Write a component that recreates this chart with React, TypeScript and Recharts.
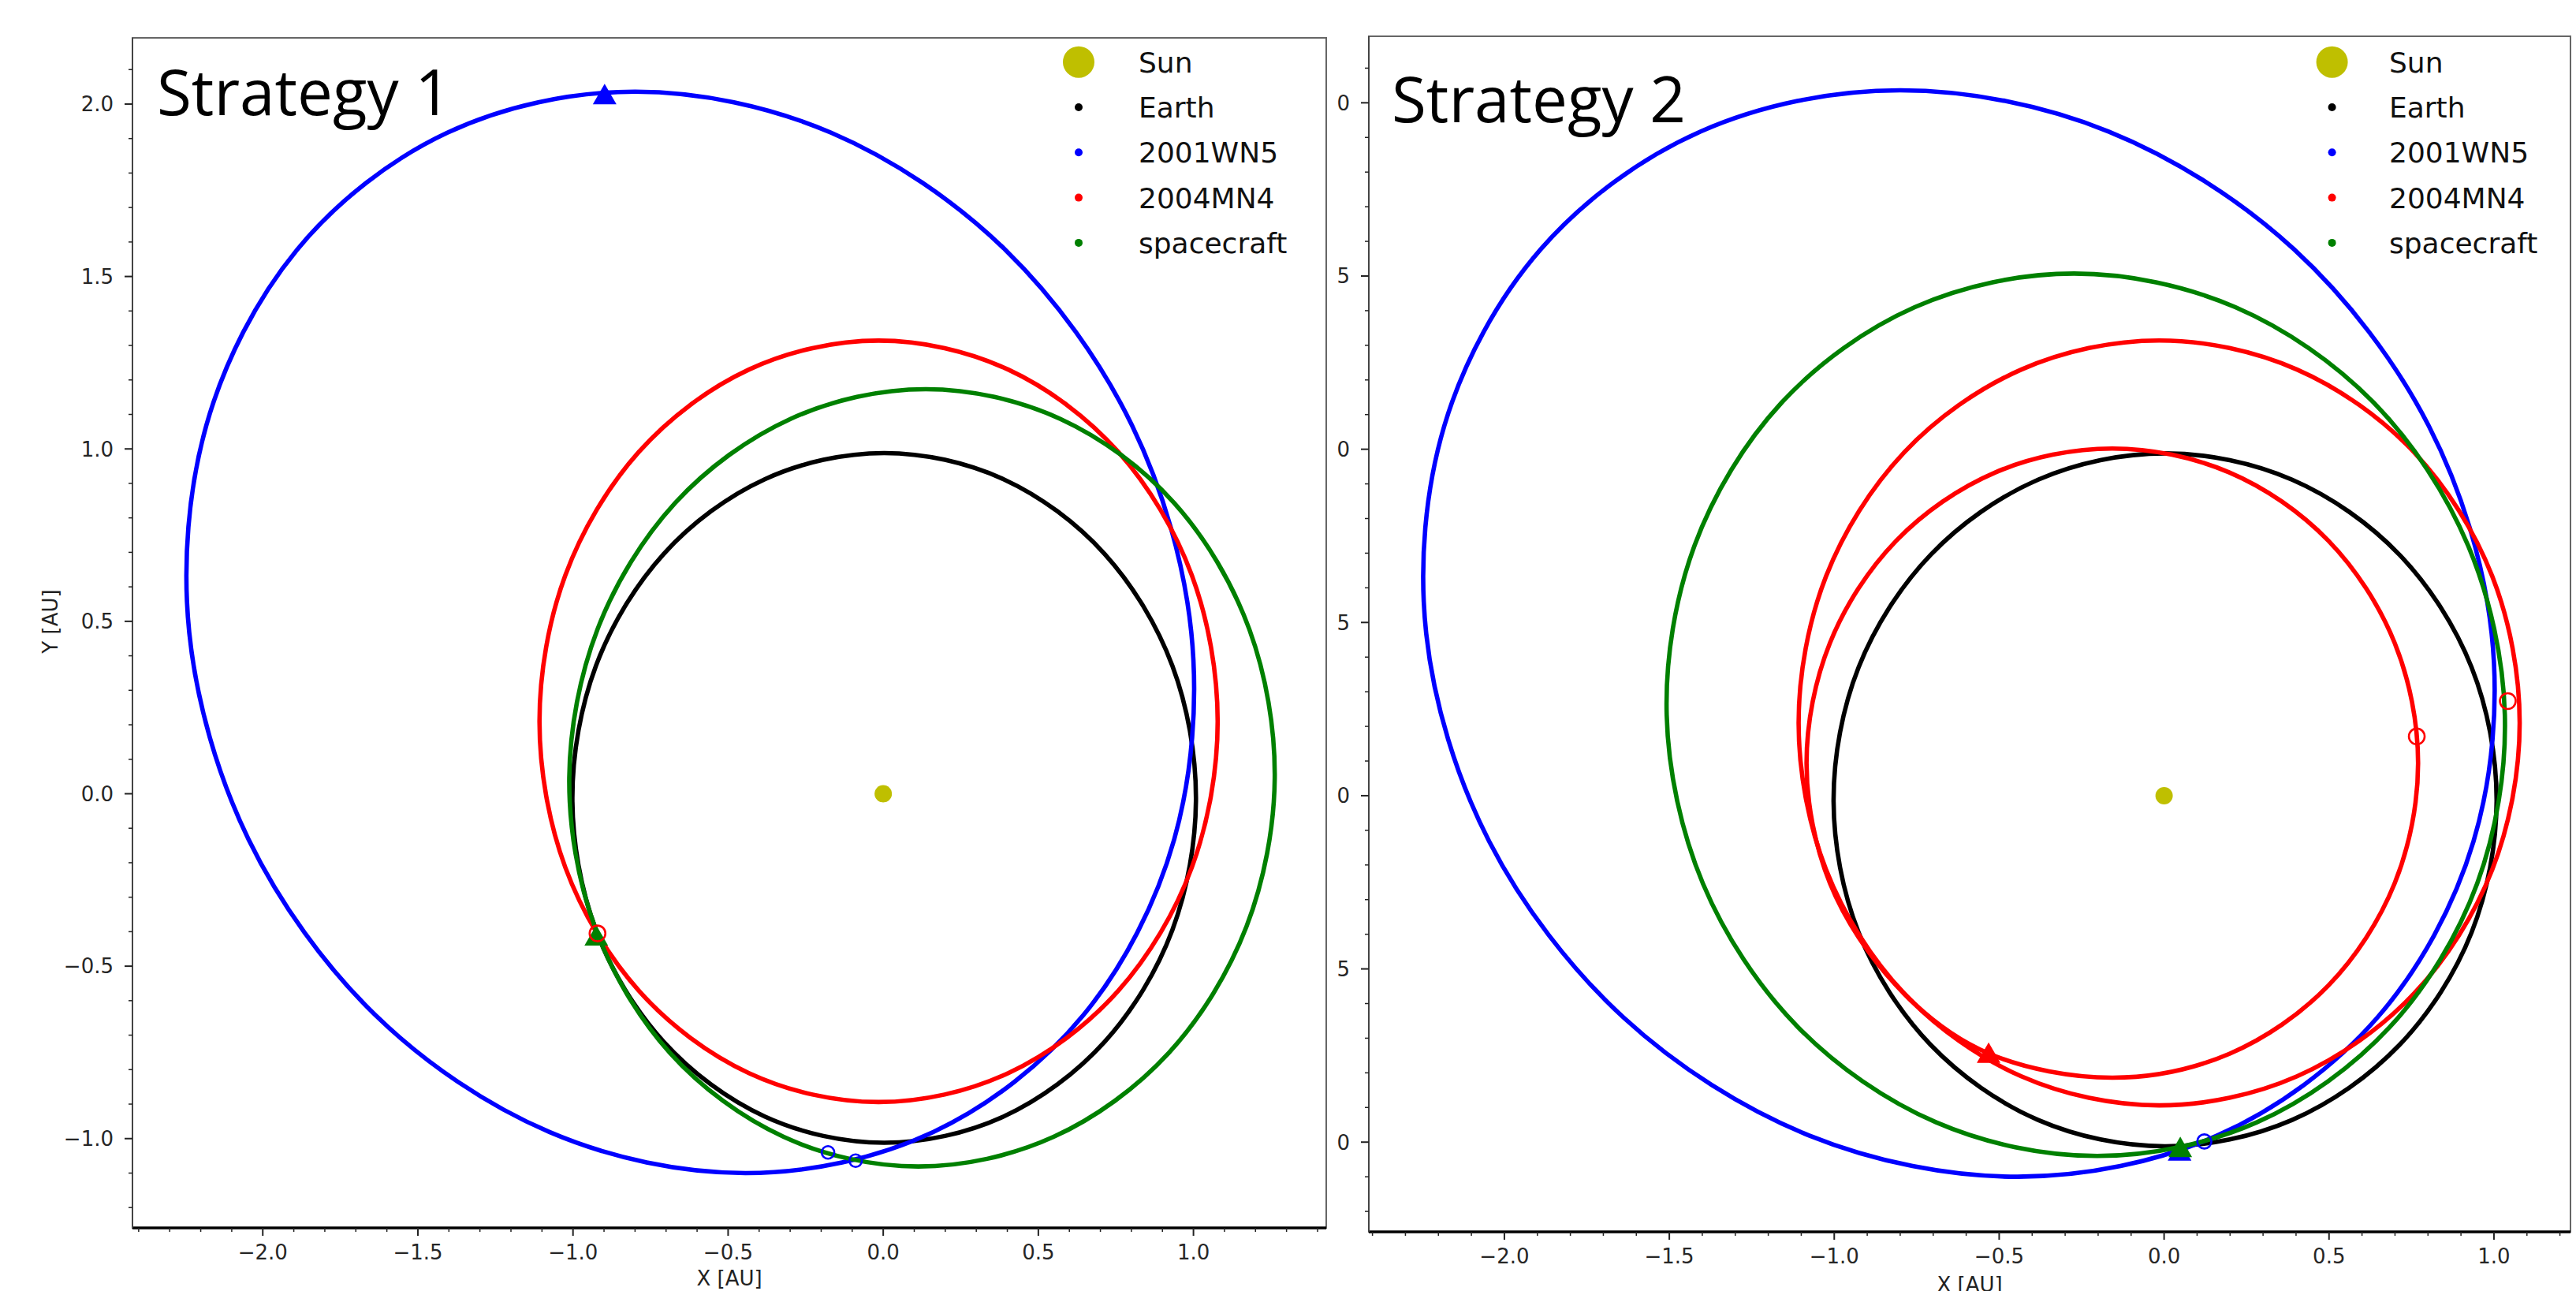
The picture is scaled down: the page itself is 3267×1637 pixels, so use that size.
import React from 'react';
import { ComposedChart, Line, Scatter, XAxis, YAxis, ReferenceArea } from 'recharts';

type Pt = { x: number; y: number };
const toPts = (a: number[][]): Pt[] => a.map(([x, y]) => ({ x, y }));

// ---------- orbit traces (closed loops) ----------
const earthOrbit = toPts([
  [0.003, 0.988], [0.388, 0.912], [0.714, 0.695], [0.932, 0.371], [1.008, -0.012], [0.932, -0.395],
  [0.714, -0.719], [0.388, -0.936], [0.003, -1.012], [-0.382, -0.936], [-0.708, -0.719], [-0.926, -0.395],
  [-1.002, -0.012], [-0.926, 0.371], [-0.708, 0.695], [-0.382, 0.912],
]);

const wn5Orbit = toPts([
  [-0.800, 2.036], [-0.168, 1.917], [0.394, 1.577], [0.802, 1.068], [0.993, 0.468], [0.938, -0.132],
  [0.646, -0.641], [0.161, -0.981], [-0.444, -1.100], [-1.076, -0.981], [-1.638, -0.641], [-2.046, -0.132],
  [-2.237, 0.468], [-2.182, 1.068], [-1.890, 1.577], [-1.405, 1.917],
]);

const mn4Orbit = toPts([
  [-0.015, 1.314], [0.403, 1.230], [0.758, 0.991], [0.995, 0.633], [1.078, 0.210], [0.995, -0.213],
  [0.758, -0.571], [0.403, -0.810], [-0.015, -0.894], [-0.433, -0.810], [-0.788, -0.571], [-1.025, -0.213],
  [-1.108, 0.210], [-1.025, 0.633], [-0.788, 0.991], [-0.433, 1.230],
]);

const craftOrbit1 = toPts([
  [0.137, 1.173], [0.571, 1.087], [0.938, 0.843], [1.180, 0.477], [1.262, 0.046], [1.171, -0.385],
  [0.921, -0.751], [0.549, -0.995], [0.113, -1.081], [-0.321, -0.995], [-0.688, -0.751], [-0.930, -0.385],
  [-1.012, 0.046], [-0.921, 0.477], [-0.671, 0.843], [-0.299, 1.087],
]);

const craftOrbit2 = toPts([
  [-0.273, 1.507], [0.216, 1.410], [0.636, 1.134], [0.922, 0.721], [1.033, 0.234], [0.949, -0.254],
  [0.685, -0.667], [0.281, -0.943], [-0.203, -1.040], [-0.691, -0.943], [-1.111, -0.667], [-1.398, -0.254],
  [-1.508, 0.234], [-1.424, 0.721], [-1.160, 1.134], [-0.756, 1.410],
]);

const mn4Deflected = toPts([
  [-0.532, -0.744], [-0.157, -0.814], [0.198, -0.745], [0.498, -0.548], [0.699, -0.253], [0.770, 0.094],
  [0.699, 0.441], [0.498, 0.736], [0.198, 0.933], [-0.157, 1.002], [-0.512, 0.933], [-0.812, 0.736],
  [-1.013, 0.441], [-1.084, 0.094], [-1.013, -0.253], [-0.812, -0.548],
]);

// ---------- markers ----------
const sunPos = toPts([[0, 0]]);
const s1BlueTri = toPts([[-0.898, 2.027]]);
const s1GreenTri = toPts([[-0.925, -0.413]]);
const s1RedRing = toPts([[-0.921, -0.405]]);
const s1BlueRings = toPts([[-0.178, -1.040], [-0.089, -1.064]]);

const s2RedTri = toPts([[-0.532, -0.744]]);
const s2BlueTri = toPts([[0.047, -1.026]]);
const s2GreenTri = toPts([[0.049, -1.016]]);
const s2BlueRing = toPts([[0.122, -0.998]]);
const s2RedRings = toPts([[0.766, 0.171], [1.042, 0.273]]);

// ---------- axes ----------
const yDomain: [number, number] = [-1.259, 2.192];
const xDomain1: [number, number] = [-2.42, 1.428];
const xDomain2: [number, number] = [-2.411, 1.232];
const xMajor = [-2.0, -1.5, -1.0, -0.5, 0.0, 0.5, 1.0];
const yMajor = [-1.0, -0.5, 0.0, 0.5, 1.0, 1.5, 2.0];
const xTicks1 = [-2.4, -2.3, -2.2, -2.1, -2.0, -1.9, -1.8, -1.7, -1.6, -1.5, -1.4, -1.3, -1.2, -1.1, -1.0, -0.9, -0.8, -0.7, -0.6, -0.5, -0.4, -0.3, -0.2, -0.1, 0.0, 0.1, 0.2, 0.3, 0.4, 0.5, 0.6, 0.7, 0.8, 0.9, 1.0, 1.1, 1.2, 1.3, 1.4];
const xTicks2 = [-2.4, -2.3, -2.2, -2.1, -2.0, -1.9, -1.8, -1.7, -1.6, -1.5, -1.4, -1.3, -1.2, -1.1, -1.0, -0.9, -0.8, -0.7, -0.6, -0.5, -0.4, -0.3, -0.2, -0.1, 0.0, 0.1, 0.2, 0.3, 0.4, 0.5, 0.6, 0.7, 0.8, 0.9, 1.0, 1.1, 1.2];
const yTicks = [-1.2, -1.1, -1.0, -0.9, -0.8, -0.7, -0.6, -0.5, -0.4, -0.3, -0.2, -0.1, 0.0, 0.1, 0.2, 0.3, 0.4, 0.5, 0.6, 0.7, 0.8, 0.9, 1.0, 1.1, 1.2, 1.3, 1.4, 1.5, 1.6, 1.7, 1.8, 1.9, 2.0, 2.1];

const legendLabels = ['Sun', 'Earth', '2001WN5', '2004MN4', 'spacecraft'];
const legendColors = ['#bfbf00', '#000000', '#0000ff', '#ff0000', '#008000'];
const legendDotR = [20, 5, 5, 5, 5];

const panelTitles = ['Strategy 1', 'Strategy 2'];

const C_SUN = '#bfbf00';
const C_EARTH = '#000000';
const C_BLUE = '#0000ff';
const C_RED = '#ff0000';
const C_GREEN = '#008000';

const TICK_FONT = 'DejaVu Sans, Verdana, sans-serif';

// closed Catmull-Rom curve through the plotted points (used as the Line's curve type)
const closedSpline: any = (context: any) => {
  let pts: number[][] = [];
  return {
    areaStart() {},
    areaEnd() {},
    lineStart() {
      pts = [];
    },
    point(x: number, y: number) {
      pts.push([+x, +y]);
    },
    lineEnd() {
      const n = pts.length;
      if (n === 0) return;
      context.moveTo(pts[0][0], pts[0][1]);
      if (n < 3) {
        for (let i = 1; i < n; i++) context.lineTo(pts[i][0], pts[i][1]);
        return;
      }
      for (let i = 0; i < n; i++) {
        const p0 = pts[(i - 1 + n) % n];
        const p1 = pts[i];
        const p2 = pts[(i + 1) % n];
        const p3 = pts[(i + 2) % n];
        context.bezierCurveTo(
          p1[0] + (p2[0] - p0[0]) / 6,
          p1[1] + (p2[1] - p0[1]) / 6,
          p2[0] - (p3[0] - p1[0]) / 6,
          p2[1] - (p3[1] - p1[1]) / 6,
          p2[0],
          p2[1]
        );
      }
      context.closePath();
    },
  };
};

const fmtFull = (v: number) => v.toFixed(1).replace('-', '\u2212');
const fmtLast = (v: number) => {
  const s = v.toFixed(1);
  return s.charAt(s.length - 1);
};
const isIn = (arr: number[], v: number) => arr.some((a) => Math.abs(a - v) < 1e-6);

const makeXTick = (fmt: (v: number) => string) => (props: any) => {
  const { x, y, payload } = props;
  const v = payload.value;
  const maj = isIn(xMajor, v);
  return (
    <g>
      <line x1={x} x2={x} y1={y} y2={y + (maj ? 10 : 5)} stroke="#222" strokeWidth={maj ? 2 : 1.5} />
      {maj && (
        <text x={x} y={y + 40} textAnchor="middle" fontFamily={TICK_FONT} fontSize={26} fill="#262626">
          {fmt(v)}
        </text>
      )}
    </g>
  );
};

const makeYTick = (fmt: (v: number) => string) => (props: any) => {
  const { x, y, payload } = props;
  const v = payload.value;
  const maj = isIn(yMajor, v);
  return (
    <g>
      <line x1={x - (maj ? 10 : 5)} x2={x} y1={y} y2={y} stroke="#222" strokeWidth={maj ? 2 : 1.5} />
      {maj && (
        <text x={x - 24} y={y} dy="0.36em" textAnchor="end" fontFamily={TICK_FONT} fontSize={26} fill="#262626">
          {fmt(v)}
        </text>
      )}
    </g>
  );
};

const triShape = (fill: string) => (p: any) => (
  <polygon points={`${p.cx},${p.cy - 14} ${p.cx - 15},${p.cy + 12} ${p.cx + 15},${p.cy + 12}`} fill={fill} />
);
const ringShape = (stroke: string, r: number) => (p: any) => (
  <circle cx={p.cx} cy={p.cy} r={r} fill="none" stroke={stroke} strokeWidth={2.6} />
);
const dotShape = (fill: string, r: number) => (p: any) => <circle cx={p.cx} cy={p.cy} r={r} fill={fill} />;

const orbit = (data: Pt[], color: string, key: string) => (
  <Line
    key={key}
    data={data}
    dataKey="y"
    type={closedSpline}
    stroke={color}
    strokeWidth={5.6}
    fill="none"
    dot={false}
    activeDot={false}
    isAnimationActive={false}
  />
);

const marker = (data: Pt[], shape: any, key: string) => (
  <Scatter key={key} data={data} dataKey="y" shape={shape} isAnimationActive={false} />
);

type PanelProps = {
  left: number;
  width: number;
  marginTop: number;
  marginRight: number;
  yAxisWidth: number;
  xAxisHeight: number;
  xDomain: [number, number];
  xTicks: number[];
  yFmt: (v: number) => string;
  xLabelOffset: number;
  items: React.ReactNode[];
};

function Panel(p: PanelProps) {
  return (
    <div style={{ position: 'absolute', left: p.left, top: 0, width: p.width, height: 1637 }}>
      <ComposedChart
        width={p.width}
        height={1637}
        margin={{ top: p.marginTop, right: p.marginRight, bottom: 0, left: 0 }}
      >
        <XAxis
          type="number"
          dataKey="x"
          domain={p.xDomain}
          allowDataOverflow
          ticks={p.xTicks}
          interval={0}
          tickSize={0}
          tickMargin={0}
          tickLine={false}
          tick={makeXTick(fmtFull)}
          axisLine={{ stroke: '#000', strokeWidth: 3.5 }}
          height={p.xAxisHeight}
          label={{
            value: 'X [AU]',
            position: 'insideBottom',
            offset: p.xLabelOffset,
            fontSize: 26,
            fontFamily: TICK_FONT,
            fill: '#222',
          }}
        />
        <YAxis
          type="number"
          dataKey="y"
          domain={yDomain}
          allowDataOverflow
          ticks={yTicks}
          interval={0}
          tickSize={0}
          tickMargin={0}
          tickLine={false}
          tick={makeYTick(p.yFmt)}
          axisLine={{ stroke: '#444', strokeWidth: 2 }}
          width={p.yAxisWidth}
        />
        <ReferenceArea
          x1={p.xDomain[0]}
          x2={p.xDomain[1]}
          y1={yDomain[0]}
          y2={yDomain[1]}
          fill="none"
          stroke="#666"
          strokeWidth={2}
          ifOverflow="visible"
        />
        {p.items}
      </ComposedChart>
    </div>
  );
}

function Overlay() {
  const legendX = [1368, 2957.6];
  const labelX = [1444, 3030];
  const rowY0 = 78.7;
  const rowDy = 57.3;
  return (
    <svg
      width={3267}
      height={1637}
      style={{ position: 'absolute', left: 0, top: 0, pointerEvents: 'none' }}
    >
      <text x={199} y={146} fontFamily="Open Sans, Noto Sans, sans-serif" fontSize={80} fill="#000">
        {panelTitles[0]}
      </text>
      <text x={1765} y={155} fontFamily="Open Sans, Noto Sans, sans-serif" fontSize={80} fill="#000">
        {panelTitles[1]}
      </text>
      <text
        x={64}
        y={788}
        transform="rotate(-90 64 788)"
        textAnchor="middle"
        dy="0.36em"
        fontFamily={TICK_FONT}
        fontSize={26}
        fill="#222"
      >
        Y [AU]
      </text>
      {[0, 1].map((panel) =>
        legendLabels.map((lab, i) => (
          <g key={`${panel}-${i}`}>
            <circle cx={legendX[panel]} cy={rowY0 + i * rowDy} r={legendDotR[i]} fill={legendColors[i]} />
            <text
              x={labelX[panel]}
              y={rowY0 + i * rowDy}
              dy="0.36em"
              fontFamily={TICK_FONT}
              fontSize={36}
              fill="#111"
            >
              {lab}
            </text>
          </g>
        ))
      )}
    </svg>
  );
}

export default function App() {
  const items1 = [
    orbit(earthOrbit, C_EARTH, 'e1'),
    orbit(wn5Orbit, C_BLUE, 'b1'),
    orbit(mn4Orbit, C_RED, 'r1'),
    orbit(craftOrbit1, C_GREEN, 'g1'),
    marker(sunPos, dotShape(C_SUN, 11), 'sun1'),
    marker(s1BlueTri, triShape(C_BLUE), 'bt1'),
    marker(s1GreenTri, triShape(C_GREEN), 'gt1'),
    marker(s1RedRing, ringShape(C_RED, 10), 'rr1'),
    marker(s1BlueRings, ringShape(C_BLUE, 8), 'br1'),
  ];
  const items2 = [
    orbit(earthOrbit, C_EARTH, 'e2'),
    orbit(wn5Orbit, C_BLUE, 'b2'),
    orbit(mn4Orbit, C_RED, 'r2'),
    orbit(mn4Deflected, C_RED, 'rd2'),
    orbit(craftOrbit2, C_GREEN, 'g2'),
    marker(sunPos, dotShape(C_SUN, 11), 'sun2'),
    marker(s2RedTri, triShape(C_RED), 'rt2'),
    marker(s2BlueTri, triShape(C_BLUE), 'bt2'),
    marker(s2GreenTri, triShape(C_GREEN), 'gt2'),
    marker(s2BlueRing, ringShape(C_BLUE, 9), 'br2'),
    marker(s2RedRings, ringShape(C_RED, 10), 'rr2'),
  ];
  return (
    <div
      style={{
        position: 'absolute',
        left: 0,
        top: 0,
        width: 3267,
        height: 1637,
        background: '#fff',
        overflow: 'hidden',
      }}
    >
      <Panel
        left={1683}
        width={1584}
        marginTop={46}
        marginRight={7}
        yAxisWidth={53}
        xAxisHeight={75}
        xDomain={xDomain2}
        xTicks={xTicks2}
        yFmt={fmtLast}
        xLabelOffset={-1}
        items={items2}
      />
      <Panel
        left={0}
        width={1700}
        marginTop={48}
        marginRight={18}
        yAxisWidth={168}
        xAxisHeight={80}
        xDomain={xDomain1}
        xTicks={xTicks1}
        yFmt={fmtFull}
        xLabelOffset={7}
        items={items1}
      />
      <Overlay />
    </div>
  );
}
